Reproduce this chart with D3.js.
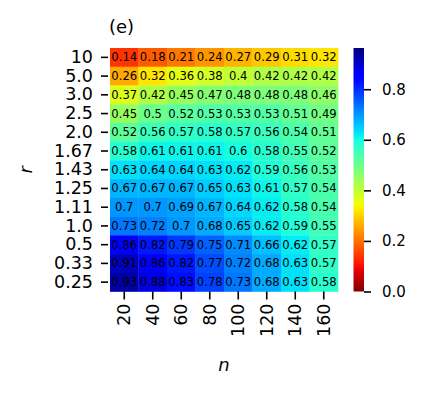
<!DOCTYPE html>
<html><head><meta charset="utf-8">
<script src="https://cdn.jsdelivr.net/npm/d3@7"></script>
<style>body{margin:0;background:#fff}svg{display:block;font-family:"DejaVu Sans",sans-serif}</style>
</head><body><svg id="c" width="426" height="395"></svg>
<script>
const rLabels = ["10","5.0","3.0","2.5","2.0","1.67","1.43","1.25","1.11","1.0","0.5","0.33","0.25"];
const nLabels = [20,40,60,80,100,120,140,160];
const values = [
 [0.14,0.18,0.21,0.24,0.27,0.29,0.31,0.32],
 [0.26,0.32,0.36,0.38,0.4,0.42,0.42,0.42],
 [0.37,0.42,0.45,0.47,0.48,0.48,0.48,0.46],
 [0.45,0.5,0.52,0.53,0.53,0.53,0.51,0.49],
 [0.52,0.56,0.57,0.58,0.57,0.56,0.54,0.51],
 [0.58,0.61,0.61,0.61,0.6,0.58,0.55,0.52],
 [0.63,0.64,0.64,0.63,0.62,0.59,0.56,0.53],
 [0.67,0.67,0.67,0.65,0.63,0.61,0.57,0.54],
 [0.7,0.7,0.69,0.67,0.64,0.62,0.58,0.54],
 [0.73,0.72,0.7,0.68,0.65,0.62,0.59,0.55],
 [0.86,0.82,0.79,0.75,0.71,0.66,0.62,0.57],
 [0.91,0.86,0.82,0.77,0.72,0.68,0.63,0.57],
 [0.93,0.88,0.83,0.78,0.73,0.68,0.63,0.58]
];
const cbTicks = [0.0,0.2,0.4,0.6,0.8];
const vmin = 0, vmax = 0.963;

function interp(pts, x){
  for(let i=1;i<pts.length;i++){
    if(x<=pts[i][0]){const [x0,y0]=pts[i-1],[x1,y1]=pts[i];return y0+(y1-y0)*(x-x0)/(x1-x0);}
  }
  return pts[pts.length-1][1];
}
function jet(t){
  t=Math.max(0,Math.min(1,t));
  const r=interp([[0,0],[0.35,0],[0.66,1],[0.89,1],[1,0.5]],t);
  const g=interp([[0,0],[0.125,0],[0.375,1],[0.64,1],[0.91,0],[1,0]],t);
  const b=interp([[0,0.5],[0.11,1],[0.34,1],[0.65,0],[1,0]],t);
  return d3.rgb(r*255,g*255,b*255).formatHex();
}
const norm = d3.scaleLinear().domain([vmin,vmax]).range([0,1]).clamp(true);
const color = v => jet(1-norm(v));

const svg = d3.select("#c");
const L=110,R=338,T=48,B=291.5;
const x = d3.scaleBand().domain(nLabels).range([L,R]);
const y = d3.scaleBand().domain(rLabels).range([T,B]);

const cells=[];
values.forEach((row,i)=>row.forEach((v,j)=>cells.push({r:rLabels[i],n:nLabels[j],v})));
svg.append("g").selectAll("rect").data(cells).join("rect")
  .attr("x",d=>x(d.n)).attr("y",d=>y(d.r))
  .attr("width",x.bandwidth()+0.3).attr("height",y.bandwidth()+0.3)
  .attr("fill",d=>color(d.v));
svg.append("g").selectAll("text").data(cells).join("text")
  .attr("x",d=>x(d.n)+x.bandwidth()/2).attr("y",d=>y(d.r)+y.bandwidth()/2)
  .attr("text-anchor","middle").attr("dominant-baseline","central")
  .attr("font-size",11.6).attr("fill","#000")
  .text(d=>String(d.v));

// y axis
const ya = svg.append("g").attr("transform",`translate(${L},0)`)
  .call(d3.axisLeft(y).tickSize(9).tickPadding(8));
ya.select(".domain").remove();
ya.selectAll(".tick line").attr("stroke","#000").attr("stroke-width",1.6).attr("x1",-2);
ya.selectAll(".tick text").attr("font-size",17.5).attr("fill","#000").attr("font-family","DejaVu Sans");

// x axis
const xa = svg.append("g").attr("transform",`translate(0,${B})`)
  .call(d3.axisBottom(x).tickSize(8).tickPadding(4));
xa.select(".domain").remove();
xa.selectAll(".tick line").attr("stroke","#000").attr("stroke-width",1.6);
xa.selectAll(".tick text").attr("font-size",17.5).attr("fill","#000").attr("font-family","DejaVu Sans")
  .attr("transform","rotate(-90)").attr("text-anchor","end").attr("dy","0.35em")
  .attr("x",-12).attr("y",0);

// colorbar
const cbX=353.5, cbW=10.5;
const cy = d3.scaleLinear().domain([vmin,vmax]).range([B,T]);
const grad = svg.append("defs").append("linearGradient").attr("id","g")
  .attr("x1",0).attr("y1",1).attr("x2",0).attr("y2",0);
d3.range(0,1.0001,0.02).forEach(t=>grad.append("stop").attr("offset",t).attr("stop-color",jet(1-t)));
svg.append("rect").attr("x",cbX).attr("y",T).attr("width",cbW).attr("height",B-T).attr("fill","url(#g)");
const ca = svg.append("g").attr("transform",`translate(${cbX+cbW},0)`)
  .call(d3.axisRight(cy).tickValues(cbTicks).tickFormat(d3.format(".1f")).tickSize(7).tickPadding(11));
ca.select(".domain").remove();
ca.selectAll(".tick line").attr("stroke","#000").attr("stroke-width",1.6);
ca.selectAll(".tick text").attr("font-size",15).attr("fill","#000").attr("font-family","DejaVu Sans");

// labels
svg.append("text").attr("x",109).attr("y",33).attr("font-size",18).attr("fill","#000").text("(e)");
svg.append("text").attr("transform",`translate(32,${(T+B)/2}) rotate(-90)`).attr("text-anchor","middle")
  .attr("font-size",18).attr("font-style","italic").attr("fill","#000").text("r");
svg.append("text").attr("x",(L+R)/2).attr("y",371).attr("text-anchor","middle")
  .attr("font-size",18).attr("font-style","italic").attr("fill","#000").text("n");
</script></body></html>
